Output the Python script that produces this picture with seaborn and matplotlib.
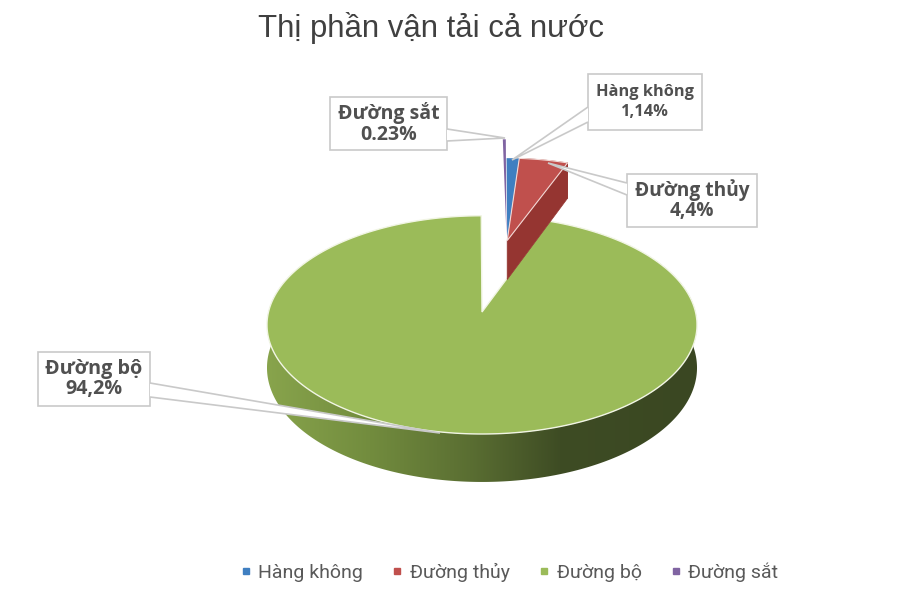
import numpy as np
import matplotlib
matplotlib.use("Agg")
import matplotlib.pyplot as plt
from matplotlib.patches import Polygon, Rectangle
from matplotlib.lines import Line2D
from matplotlib.colors import to_rgb
import seaborn as sns

categories = ["Hàng không", "Đường thủy", "Đường bộ", "Đường sắt"]
values = [1.14, 4.4, 94.2, 0.23]
value_labels = ["1,14%", "4,4%", "94,2%", "0.23%"]

top_colors = ["#3F7FC1", "#C0504D", "#9BBB59", "#8064A2"]
side_colors = ["#2F5F91", "#953531", "#6E8A3E", "#5E4A78"]

sns.set_theme(style="white")
plt.rcParams["font.family"] = ["Liberation Sans", "DejaVu Sans"]
palette = sns.color_palette(top_colors)

# projection of the tilted disc into figure pixels
CX, CY, S, C, K, DEPTH = 482.0, 312.0, 213.5, 0.504, 0.118, 42.3
# per-slice offset on the disc and radius factor
OFFSET = [(0.128, 0.72), (0.128, 0.72), (0.0, 0.0), (0.125, 0.78)]
RADIUS = [1.0, 1.0, 1.0, 1.2]


def proj(x, y, drop=0.0):
    x, y = np.asarray(x, float), np.asarray(y, float)
    w = 1 + K * y
    return np.column_stack([CX + S * x / w, CY - S * C * y / w + DEPTH * drop / w])


fig = plt.figure(figsize=(9, 6), dpi=100)
ax = fig.add_axes([0, 0, 1, 1])
wedges, _ = ax.pie(values, startangle=89.4, counterclock=False, colors=palette)
angles = [(w.theta1, w.theta2) for w in wedges]
for w in wedges:
    w.remove()

grad_x = np.array([267, 370, 470, 560, 697])
grad_rgb = np.array([to_rgb(c) for c in ["#88A44C", "#728C3E", "#5A6E32", "#3E4C24", "#3A4722"]])


def arc(i, n=None):
    t1, t2 = angles[i]
    n = n or max(4, int((t2 - t1) * 2))
    t = np.radians(np.linspace(t1, t2, n))
    ox, oy = OFFSET[i]
    r = RADIUS[i]
    return ox + r * np.cos(t), oy + r * np.sin(t)


# main slice: shaded rim (gradient clipped to the rim band) then top face
xs, ys = arc(2)
front = ys < 0.5
a = proj(xs[front], ys[front])
b = proj(xs[front], ys[front], 1.0)
band = Polygon(np.vstack([a, b[::-1]]), transform=ax.transData, fc="none", ec="none")
ax.add_patch(band)
px = np.arange(260, 705)
grad = np.column_stack([np.interp(px, grad_x, grad_rgb[:, k]) for k in range(3)])[None, :, :]
im = ax.imshow(grad, extent=(260, 705, 500, 250), aspect="auto", zorder=2, interpolation="bilinear")
im.set_clip_path(band)
ax.add_patch(Polygon(np.vstack([proj([0], [0]), proj(xs, ys)]), fc=palette[2],
                     ec="#F1F5E4", lw=1.0, zorder=3))

# pulled-out slices
for i in [3, 0, 1]:
    xs, ys = arc(i)
    ox, oy = OFFSET[i]
    if i == 1:
        wall_x = np.array([ox, xs[0]])
        wall_y = np.array([oy, ys[0]])
        for px_, py_ in [(wall_x, wall_y), (xs, ys)]:
            a = proj(px_, py_)
            b = proj(px_, py_, 1.0)
            ax.add_patch(Polygon(np.vstack([a, b[::-1]]), fc=side_colors[i],
                                 ec=side_colors[i], lw=0.5, zorder=4))
    edge = "#F3D9D6" if i == 1 else "none"
    ax.add_patch(Polygon(np.vstack([proj([ox], [oy]), proj(xs, ys)]), fc=palette[i],
                         ec=edge, lw=0.8, zorder=5))

# data-label boxes with callouts
boxes = {
    0: ((588, 74, 702, 130), [(588, 107), (512, 160), (588, 122)]),
    1: ((627, 174, 757, 227), [(627, 183), (548, 163), (627, 195)]),
    2: ((38, 352, 150, 406), [(150, 383), (440, 433), (150, 397)]),
    3: ((330, 97, 447, 150), [(447, 129), (505, 138), (447, 141)]),
}
label_size = {0: 11.8, 1: 13.8, 2: 14.2, 3: 14}
label_gap = {0: 1.25, 1: 1.0, 2: 1.0, 3: 1.0}
GREY = "#C9C9C9"
for i, ((x0, y0, x1, y1), tri) in boxes.items():
    ax.add_patch(Polygon(tri, closed=False, fc="white", ec=GREY, lw=1.2, zorder=7))
    ax.add_patch(Rectangle((x0, y0), x1 - x0, y1 - y0, fc="white", ec=GREY, lw=1.2, zorder=6))
    ax.add_patch(Polygon(tri, closed=True, fc="white", ec="none", zorder=6.5))
    ax.text((x0 + x1) / 2, (y0 + y1) / 2, f"{categories[i]}\n{value_labels[i]}",
            ha="center", va="center", fontsize=label_size[i], fontweight="bold", color="#505050",
            family=["Open Sans", "DejaVu Sans"], linespacing=label_gap[i], zorder=8)

ax.text(431, 28, "Thị phần vận tải cả nước", ha="center", va="center",
        fontsize=22.4, color="#404040")

handles = [Line2D([], [], ls="none", marker="s", ms=4.5, color=palette[i]) for i in range(4)]
ax.legend(handles, categories, loc="center", bbox_to_anchor=(509 / 900, 1 - 572 / 600),
          ncol=4, frameon=False, labelcolor="#595959", handlelength=0.6, handletextpad=0.35,
          columnspacing=1.45, prop={"family": ["Roboto", "DejaVu Sans"], "size": 14})

ax.set_xlim(0, 900)
ax.set_ylim(600, 0)
ax.set_aspect("auto")
ax.axis("off")

fig.savefig("out.png", dpi=100)
